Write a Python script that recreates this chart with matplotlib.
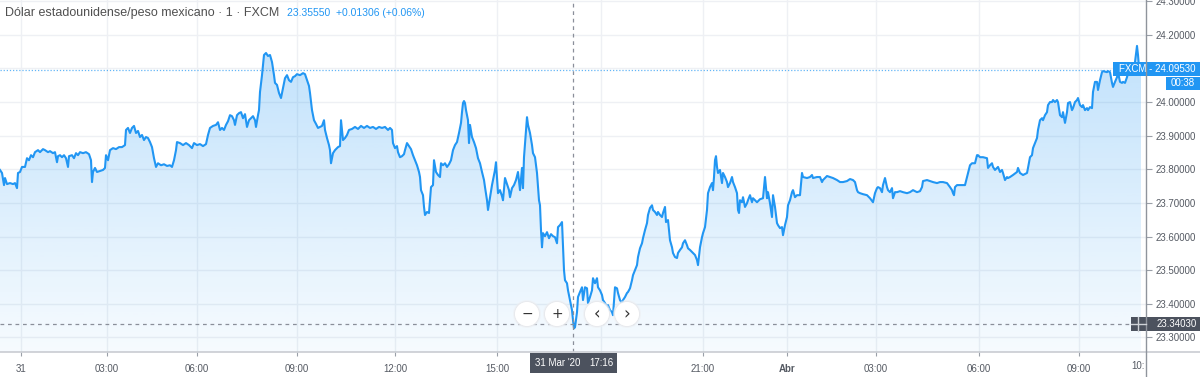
import matplotlib
matplotlib.use("Agg")
import matplotlib.pyplot as plt
import numpy as np
from matplotlib.patches import Rectangle, Ellipse, Polygon
from matplotlib.lines import Line2D

# ---------------- data ----------------
title = "Dólar estadounidense/peso mexicano · 1 · FXCM"
quote = "23.35550  +0.01306 (+0.06%)"
last_price = 24.09530
countdown = "00:38"
cross_price = 23.34030
cross_bar = 573
cross_date = "31 Mar '20"
cross_time = "17:16"

bar = [0, 2, 4, 5, 7, 10, 13, 15, 17, 18, 20, 22, 25, 27, 29, 31, 33, 35, 38, 40, 43, 45, 48, 50, 53, 55,
       57, 58, 60, 62, 64, 66, 68, 69, 72, 74, 76, 78, 80, 83, 86, 89, 91, 92, 93, 95, 97, 100, 103, 105,
       106, 108, 110, 113, 116, 119, 122, 125, 126, 128, 130, 132, 134, 136, 138, 140, 142, 144, 146, 148,
       150, 152, 154, 156, 158, 161, 164, 167, 170, 172, 174, 176, 177, 180, 183, 186, 189, 192, 194, 197,
       200, 203, 206, 208, 210, 213, 216, 218, 220, 222, 224, 226, 228, 230, 232, 234, 235, 237, 239, 241,
       243, 245, 247, 249, 251, 253, 255, 256, 258, 259, 260, 262, 264, 266, 268, 270, 272, 274, 275, 277,
       279, 281, 283, 285, 287, 289, 291, 293, 295, 297, 300, 303, 305, 307, 309, 310, 312, 314, 316, 318,
       320, 322, 324, 325, 327, 329, 330, 331, 333, 335, 338, 340, 341, 343, 345, 347, 349, 352, 355, 358,
       361, 364, 367, 370, 373, 376, 379, 382, 385, 388, 390, 392, 393, 395, 397, 398, 400, 402, 404, 405,
       407, 409, 411, 413, 415, 417, 419, 420, 421, 423, 424, 425, 427, 429, 430, 431, 433, 434, 436, 438,
       440, 441, 443, 445, 447, 449, 451, 453, 455, 457, 459, 461, 462, 463, 464, 465, 466, 468, 469, 470,
       472, 474, 476, 478, 480, 482, 484, 485, 487, 488, 490, 492, 493, 495, 496, 498, 500, 502, 503, 505,
       507, 509, 510, 512, 514, 516, 518, 520, 522, 523, 524, 526, 527, 528, 530, 532, 533, 535, 537, 538,
       539, 540, 541, 542, 543, 545, 547, 549, 551, 553, 555, 557, 558, 560, 562, 563, 564, 565, 567, 568,
       570, 572, 573, 574, 575, 577, 578, 580, 582, 583, 585, 587, 588, 590, 592, 593, 595, 597, 598, 600,
       602, 603, 605, 607, 608, 610, 612, 613, 615, 617, 618, 620, 622, 623, 625, 627, 628, 630, 632, 633,
       635, 637, 638, 640, 642, 643, 645, 647, 648, 650, 652, 653, 655, 657, 658, 660, 662, 663, 665, 666,
       668, 670, 672, 673, 675, 677, 678, 680, 682, 683, 685, 687, 688, 690, 692, 693, 695, 697, 698, 700,
       702, 703, 705, 707, 708, 710, 712, 713, 714, 715, 716, 717, 718, 720, 722, 723, 725, 727, 728, 730,
       732, 733, 735, 737, 738, 739, 740, 742, 743, 745, 747, 748, 750, 752, 753, 757, 760, 763, 765, 767,
       768, 770, 772, 773, 775, 777, 778, 780, 782, 783, 785, 787, 788, 790, 792, 793, 795, 797, 800, 802,
       803, 807, 810, 812, 813, 817, 820, 822, 823, 827, 830, 833, 837, 840, 843, 847, 850, 853, 855, 857,
       858, 860, 863, 867, 870, 873, 875, 877, 878, 880, 882, 883, 885, 887, 888, 890, 892, 893, 895, 897,
       900, 903, 907, 910, 913, 917, 920, 922, 923, 927, 930, 933, 937, 940, 943, 947, 950, 952, 953, 954,
       955, 957, 960, 963, 965, 967, 968, 970, 972, 975, 977, 978, 980, 983, 987, 988, 990, 992, 993, 995,
       997, 998, 1000, 1002, 1003, 1005, 1007, 1008, 1010, 1013, 1017, 1018, 1020, 1023, 1027, 1028, 1030,
       1032, 1033, 1035, 1037, 1038, 1040, 1042, 1043, 1045, 1047, 1048, 1050, 1052, 1053, 1055, 1057, 1058,
       1060, 1062, 1063, 1065, 1067, 1068, 1070, 1072, 1073, 1075, 1077, 1078, 1080, 1082, 1083, 1085, 1087,
       1088, 1090, 1092, 1093, 1095, 1097, 1098, 1100, 1102, 1103, 1107, 1108, 1110, 1112, 1113, 1115, 1117,
       1118, 1120, 1122, 1123, 1125, 1127, 1128, 1130, 1132, 1133, 1135, 1137, 1138, 1139, 1141]

price = [23.798, 23.789, 23.753, 23.774, 23.756, 23.759, 23.756, 23.759, 23.744, 23.789, 23.792, 23.807,
         23.807, 23.833, 23.827, 23.842, 23.836, 23.851, 23.857, 23.851, 23.860, 23.857, 23.851, 23.854,
         23.848, 23.851, 23.821, 23.839, 23.842, 23.836, 23.842, 23.833, 23.807, 23.839, 23.842, 23.833,
         23.848, 23.842, 23.851, 23.848, 23.851, 23.845, 23.827, 23.762, 23.792, 23.804, 23.792, 23.795,
         23.798, 23.804, 23.842, 23.827, 23.857, 23.863, 23.860, 23.866, 23.866, 23.872, 23.917, 23.923,
         23.908, 23.923, 23.929, 23.908, 23.914, 23.896, 23.902, 23.887, 23.896, 23.893, 23.881, 23.866,
         23.833, 23.807, 23.818, 23.812, 23.815, 23.810, 23.812, 23.807, 23.827, 23.857, 23.881, 23.878,
         23.872, 23.878, 23.872, 23.863, 23.878, 23.872, 23.875, 23.869, 23.875, 23.902, 23.923, 23.929,
         23.932, 23.940, 23.917, 23.923, 23.917, 23.932, 23.943, 23.961, 23.958, 23.946, 23.932, 23.961,
         23.967, 23.970, 23.952, 23.964, 23.926, 23.946, 23.952, 23.958, 23.946, 23.926, 23.961, 23.976,
         24.030, 24.080, 24.140, 24.146, 24.137, 24.140, 24.119, 24.080, 24.057, 24.051, 24.027, 24.012,
         24.042, 24.071, 24.080, 24.065, 24.060, 24.074, 24.077, 24.083, 24.080, 24.086, 24.083, 24.065,
         24.048, 24.027, 23.976, 23.946, 23.935, 23.923, 23.926, 23.929, 23.946, 23.917, 23.893, 23.872,
         23.857, 23.818, 23.848, 23.857, 23.866, 23.869, 23.946, 23.887, 23.893, 23.902, 23.917, 23.920,
         23.926, 23.920, 23.929, 23.923, 23.929, 23.923, 23.926, 23.920, 23.926, 23.923, 23.926, 23.917,
         23.923, 23.917, 23.878, 23.863, 23.869, 23.851, 23.836, 23.839, 23.845, 23.857, 23.878, 23.869,
         23.860, 23.842, 23.827, 23.812, 23.792, 23.777, 23.738, 23.723, 23.688, 23.664, 23.673, 23.670,
         23.708, 23.747, 23.753, 23.827, 23.792, 23.783, 23.777, 23.818, 23.812, 23.818, 23.807, 23.815,
         23.827, 23.857, 23.872, 23.881, 23.908, 23.938, 23.970, 23.997, 24.003, 23.997, 23.976, 23.946,
         23.878, 23.932, 23.896, 23.881, 23.863, 23.833, 23.818, 23.792, 23.768, 23.747, 23.708, 23.679,
         23.717, 23.753, 23.768, 23.798, 23.821, 23.729, 23.738, 23.720, 23.708, 23.774, 23.756, 23.738,
         23.717, 23.744, 23.753, 23.768, 23.792, 23.738, 23.804, 23.744, 23.836, 23.917, 23.955, 23.932,
         23.908, 23.872, 23.848, 23.836, 23.789, 23.747, 23.708, 23.693, 23.619, 23.568, 23.610, 23.601,
         23.613, 23.595, 23.607, 23.601, 23.598, 23.580, 23.628, 23.634, 23.643, 23.568, 23.500, 23.470,
         23.461, 23.440, 23.411, 23.381, 23.351, 23.327, 23.330, 23.375, 23.420, 23.435, 23.449, 23.411,
         23.449, 23.446, 23.402, 23.420, 23.440, 23.476, 23.461, 23.476, 23.449, 23.440, 23.426, 23.411,
         23.402, 23.390, 23.396, 23.381, 23.375, 23.366, 23.449, 23.446, 23.432, 23.411, 23.402, 23.411,
         23.420, 23.432, 23.435, 23.446, 23.470, 23.485, 23.500, 23.515, 23.539, 23.565, 23.580, 23.595,
         23.619, 23.640, 23.664, 23.685, 23.693, 23.679, 23.673, 23.664, 23.673, 23.664, 23.658, 23.670,
         23.688, 23.643, 23.649, 23.589, 23.568, 23.551, 23.539, 23.536, 23.551, 23.560, 23.568, 23.580,
         23.589, 23.574, 23.565, 23.560, 23.554, 23.551, 23.545, 23.530, 23.515, 23.568, 23.598, 23.610,
         23.628, 23.679, 23.729, 23.747, 23.759, 23.738, 23.777, 23.827, 23.839, 23.807, 23.789, 23.798,
         23.759, 23.789, 23.777, 23.762, 23.747, 23.759, 23.777, 23.762, 23.747, 23.729, 23.679, 23.670,
         23.708, 23.702, 23.717, 23.688, 23.699, 23.708, 23.723, 23.702, 23.714, 23.702, 23.711, 23.714,
         23.777, 23.714, 23.732, 23.699, 23.658, 23.723, 23.688, 23.640, 23.634, 23.625, 23.628, 23.604,
         23.634, 23.658, 23.693, 23.708, 23.732, 23.738, 23.717, 23.723, 23.723, 23.789, 23.777, 23.774,
         23.777, 23.783, 23.774, 23.777, 23.777, 23.762, 23.768, 23.780, 23.777, 23.774, 23.768, 23.762,
         23.762, 23.765, 23.771, 23.768, 23.762, 23.738, 23.732, 23.729, 23.726, 23.723, 23.714, 23.702,
         23.729, 23.744, 23.747, 23.744, 23.732, 23.753, 23.774, 23.747, 23.738, 23.732, 23.744, 23.714,
         23.732, 23.732, 23.735, 23.732, 23.729, 23.732, 23.738, 23.732, 23.735, 23.747, 23.765, 23.768,
         23.765, 23.762, 23.759, 23.762, 23.762, 23.759, 23.747, 23.738, 23.729, 23.723, 23.747, 23.753,
         23.753, 23.753, 23.753, 23.777, 23.789, 23.812, 23.818, 23.818, 23.842, 23.842, 23.836, 23.836,
         23.833, 23.804, 23.812, 23.818, 23.807, 23.798, 23.804, 23.807, 23.792, 23.798, 23.789, 23.768,
         23.777, 23.774, 23.777, 23.783, 23.792, 23.804, 23.789, 23.783, 23.789, 23.804, 23.836, 23.842,
         23.863, 23.878, 23.893, 23.917, 23.946, 23.952, 23.946, 23.961, 23.970, 23.991, 24.000, 24.000,
         24.006, 24.000, 24.006, 24.000, 23.961, 23.955, 23.970, 23.938, 23.970, 23.997, 24.000, 23.976,
         23.982, 24.000, 24.006, 24.012, 23.991, 23.985, 23.991, 23.976, 23.982, 23.976, 23.985, 23.982,
         24.030, 24.060, 24.060, 24.036, 24.065, 24.089, 24.092, 24.089, 24.092, 24.089, 24.057, 24.045,
         24.060, 24.074, 24.089, 24.060, 24.057, 24.060, 24.057, 24.074, 24.086, 24.089, 24.095, 24.101,
         24.119, 24.167, 24.140, 24.104, 24.095]

y_ticks = [23.3, 23.4, 23.5, 23.6, 23.7, 23.8, 23.9, 24.0, 24.1, 24.2, 24.3]
x_tick_bars = [21, 107, 197, 297, 395, 497, 601, 703, 787, 876, 979, 1079]
x_tick_labels = ["31", "03:00", "06:00", "09:00", "12:00", "15:00", "18:00",
                 "21:00", "Abr", "03:00", "06:00", "09:00"]

# ---------------- style ----------------
BLUE = "#2196f3"
GRID = "#eef0f4"
TXT = "#555a63"
DARK = "#4c525e"
W, H = 1200, 377
plt.rcParams["font.family"] = ["Liberation Sans", "DejaVu Sans"]


def fx(x):
    return x / W


def fy(y):
    return 1 - y / H


fig = plt.figure(figsize=(12, 3.77), dpi=100)
fig.patch.set_facecolor("white")
ax = fig.add_axes([0, fy(352), fx(1146), 352 / H])
ymin, ymax = 23.2565, 24.3036
ax.set_xlim(0, 1146)
ax.set_ylim(ymin, ymax)
for s in ax.spines.values():
    s.set_visible(False)

# grid
for v in y_ticks:
    ax.axhline(v, color=GRID, lw=1, zorder=0)
for b in x_tick_bars:
    ax.axvline(b, color=GRID, lw=1, zorder=0)

# gradient area fill
verts = [(bar[0], ymin)] + list(zip(bar, price)) + [(bar[-1], ymin)]
poly = Polygon(verts, closed=True, facecolor="none", edgecolor="none")
ax.add_patch(poly)
n = 256
alpha = np.linspace(0.28, 0.04, n)
grad = np.zeros((n, 1, 4))
grad[:, 0, 0] = 33 / 255
grad[:, 0, 1] = 150 / 255
grad[:, 0, 2] = 243 / 255
grad[:, 0, 3] = alpha
top = max(price)
im = ax.imshow(grad, extent=[bar[0], bar[-1], ymin, top], aspect="auto",
               origin="upper", zorder=1, interpolation="bilinear")
im.set_clip_path(poly)

ax.plot(bar, price, color=BLUE, lw=1.5, zorder=3, solid_joinstyle="round")

# last price dotted line
ax.axhline(last_price, color=BLUE, lw=0.9, ls=(0, (1, 1.5)), alpha=0.7, zorder=2)

# crosshair
ax.axvline(cross_bar, color="#8a8f9a", lw=0.9, ls=(0, (3, 3)), zorder=4)
ax.axhline(cross_price, color="#8a8f9a", lw=0.9, ls=(0, (3, 3)), zorder=4)

# ticks / labels right
ax.set_yticks(y_ticks)
ax.set_yticklabels([f"{v:.5f}" for v in y_ticks])
ax.yaxis.tick_right()
ax.tick_params(axis="y", length=4, width=0.8, color="#9aa0a8", pad=3,
               labelsize=7, labelcolor=TXT)
for lbl, v in zip(ax.get_yticklabels(), y_ticks):
    if abs(v - last_price) < 0.02:      # hidden behind the last-price label
        lbl.set_visible(False)
ax.set_xticks(x_tick_bars)
ax.set_xticklabels(x_tick_labels)
ax.tick_params(axis="x", length=3, width=0.8, color="#9aa0a8", pad=6,
               labelsize=7, labelcolor=TXT)
for lbl, b in zip(ax.get_xticklabels(), x_tick_bars):
    if lbl.get_text() == "Abr":
        lbl.set_fontweight("bold")
    if abs(b - cross_bar) < 45:          # hidden behind the crosshair date label
        lbl.set_visible(False)

# frame lines
fig.add_artist(Line2D([0, 1], [fy(352), fy(352)], color="#c9ccd2", lw=1.2))
fig.add_artist(Line2D([fx(1146), fx(1146)], [0, 1], color="#8f949c", lw=1))
fig.text(fx(1145), fy(366), "10:", ha="right", va="center", fontsize=7, color=TXT)

# header
fig.text(fx(5), fy(13), title, fontsize=9, color="#505050", va="center", ha="left")
fig.text(fx(287), fy(13), quote, fontsize=7.5, color=BLUE, va="center", ha="left")

# last price label
fig.add_artist(Rectangle((fx(1113), fy(76)), fx(87), 14 / H, color=BLUE, lw=0))
fig.text(fx(1157), fy(69), f"FXCM - {last_price:.5f}", color="white", fontsize=7,
         ha="center", va="center")
fig.add_artist(Rectangle((fx(1166), fy(90)), fx(34), 13 / H, color=BLUE, lw=0))
fig.text(fx(1183), fy(83.5), countdown, color="white", fontsize=7, ha="center", va="center")

# crosshair labels
fig.add_artist(Rectangle((fx(1131), fy(331)), fx(69), 14 / H, color=DARK, lw=0))
fig.text(fx(1197), fy(324), f"{cross_price:.5f}", color="white", fontsize=7,
         ha="right", va="center")
fig.add_artist(Line2D([fx(1131), fx(1146)], [fy(324), fy(324)], color="#d0d3d8", lw=1))
fig.add_artist(Line2D([fx(1138), fx(1138)], [fy(317), fy(331)], color="#d0d3d8", lw=1))

fig.add_artist(Rectangle((fx(530), fy(373)), fx(87), 20 / H, color=DARK, lw=0))
fig.text(fx(535), fy(363), cross_date, color="white", fontsize=7, ha="left", va="center")
fig.text(fx(614), fy(363), cross_time, color="white", fontsize=7, ha="right", va="center")

# navigation buttons
for cx, sym in [(527, "\u2212"), (557, "+"), (597, "\u2039"), (627, "\u203a")]:
    fig.add_artist(Ellipse((fx(cx), fy(314)), fx(28), 28 / H, facecolor="#eef0f3",
                           edgecolor="none", alpha=0.6))
    fig.add_artist(Ellipse((fx(cx), fy(314)), fx(25), 25 / H, facecolor="white",
                           edgecolor="#e6e8ec", lw=0.6))
    fig.text(fx(cx), fy(314), sym, color="#333333",
             fontsize=12 if sym in "\u2039\u203a" else 10,
             ha="center", va="center", family=["DejaVu Sans"])

fig.savefig("out.png", dpi=100)
